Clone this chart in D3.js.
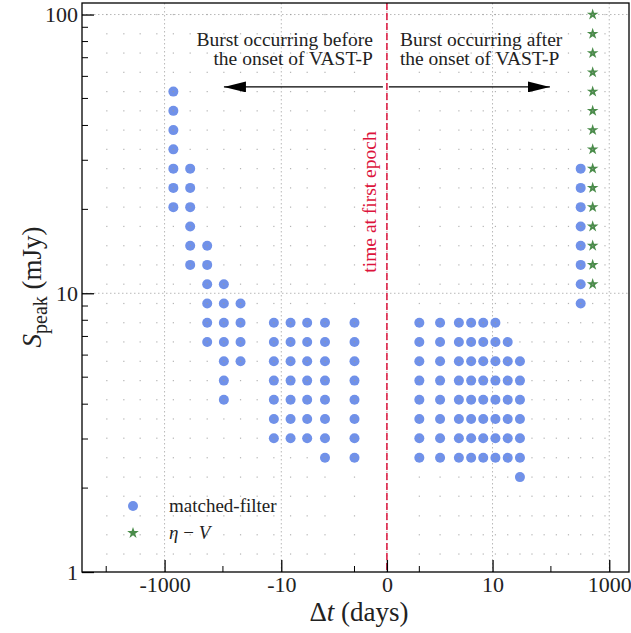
<!DOCTYPE html>
<html>
<head>
<meta charset="utf-8">
<script src="https://cdn.jsdelivr.net/npm/d3@7"></script>
<style>
  body { margin: 0; background: #fff; }
  svg text { font-family: "Liberation Serif", "DejaVu Serif", serif; fill: #222; }
</style>
</head>
<body>
<div id="chart"></div>
<script>
// delay (days) columns of the search grid, before / after the first epoch
var gridDaysBefore = [-9760, -4990, -2620, -1357, -707, -364, -186, -96.4, -49.9, -25.9, -13.4, -6.93, -3.60, -1.91, -1]
var gridDaysAfter = [1, 1.64, 2.65, 4.30, 6.93, 11.2, 18.2, 29.5, 47.4, 76.6, 124, 200, 324, 520, 845]
// peak flux rows of the grid (mJy)
var gridFlux = [100, 85.29, 72.74, 62.04, 52.91, 45.13, 38.49, 32.83, 28.00, 23.88, 20.37, 17.37, 14.81, 12.64,
  10.78, 9.19, 7.84, 6.69, 5.70, 4.86, 4.15, 3.54, 3.02, 2.57, 2.19, 1.87, 1.59, 1.36, 1.16]

// matched-filter detections: one delay per column, with the fluxes found there
var mfDays = [-707, -364, -186, -96.4, -49.9, -13.4, -6.93, -3.60, -1.91, -1,
  1, 1.64, 2.65, 4.30, 6.93, 11.2, 18.2, 29.5, 324]
var mfFlux = [
  [52.91, 45.13, 38.49, 32.83, 28.00, 23.88, 20.37],
  [28.00, 23.88, 20.37, 17.37, 14.81, 12.64],
  [14.81, 12.64, 10.78, 9.19, 7.84, 6.69],
  [10.78, 9.19, 7.84, 6.69, 5.70, 4.86, 4.15],
  [9.19, 7.84, 6.69, 5.70],
  [7.84, 6.69, 5.70, 4.86, 4.15, 3.54, 3.02],
  [7.84, 6.69, 5.70, 4.86, 4.15, 3.54, 3.02],
  [7.84, 6.69, 5.70, 4.86, 4.15, 3.54, 3.02],
  [7.84, 6.69, 5.70, 4.86, 4.15, 3.54, 3.02, 2.57],
  [7.84, 6.69, 5.70, 4.86, 4.15, 3.54, 3.02, 2.57],
  [7.84, 6.69, 5.70, 4.86, 4.15, 3.54, 3.02, 2.57],
  [7.84, 6.69, 5.70, 4.86, 4.15, 3.54, 3.02, 2.57],
  [7.84, 6.69, 5.70, 4.86, 4.15, 3.54, 3.02, 2.57],
  [7.84, 6.69, 5.70, 4.86, 4.15, 3.54, 3.02, 2.57],
  [7.84, 6.69, 5.70, 4.86, 4.15, 3.54, 3.02, 2.57],
  [7.84, 6.69, 5.70, 4.86, 4.15, 3.54, 3.02, 2.57],
  [6.69, 5.70, 4.86, 4.15, 3.54, 3.02, 2.57],
  [5.70, 4.86, 4.15, 3.54, 3.02, 2.57, 2.19],
  [28.00, 23.88, 20.37, 17.37, 14.81, 12.64, 10.78, 9.19]
]

// eta-V detections
var etaDays = [520]
var etaFlux = [[100, 85.29, 72.74, 62.04, 52.91, 45.13, 38.49, 32.83, 28.00, 23.88, 20.37, 17.37, 14.81, 12.64, 10.78]]

var xMajor = [-1000, -10, 0, 10, 1000]
var xMajorLabels = ["-1000", "-10", "0", "10", "1000"]
var xMinor = [-10000, -100, -1, 1, 100]
var yMajor = [1, 10, 100]
var yMajorLabels = ["1", "10", "100"]
var yMinor = [2, 3, 4, 5, 6, 7, 8, 9, 20, 30, 40, 50, 60, 70, 80, 90]
var xLimits = [-26000, 2180]
var yLimits = [1, 110]

// matplotlib-style symlog (linthresh 2, linscale 1)
var LT = 2, LS = 1 / (1 - 1 / 10)
function symT(v){
  var a = Math.abs(v)
  if(a <= LT) return v * LS
  return Math.sign(v) * LT * (LS + Math.log10(a / LT))
}

var margin = {top: 3, right: 2, bottom: 61, left: 82}
  , W = 631, H = 633
  , width = W - margin.left - margin.right
  , height = H - margin.top - margin.bottom

var xScale = d3.scaleLinear()
  .domain(xLimits.map(symT))
  .range([0, width])
var yScale = d3.scaleLog()
  .domain(yLimits)
  .range([height, 0])

function px(v){ return xScale(symT(v)) }

var svg = d3.select("#chart").append("svg")
  .attr("width", W)
  .attr("height", H)
var g = svg.append("g")
  .attr("transform", "translate(" + margin.left + "," + margin.top + ")")

// major grid
g.selectAll("line.vgrid")
  .data(xMajor)
  .enter().append("line")
  .attr("x1", px).attr("x2", px)
  .attr("y1", 0).attr("y2", height)
  .attr("stroke", "#b8b8b8").attr("stroke-width", 1)
  .attr("stroke-dasharray", "1.5,2.5")
g.selectAll("line.hgrid")
  .data([10, 100])
  .enter().append("line")
  .attr("x1", 0).attr("x2", width)
  .attr("y1", yScale).attr("y2", yScale)
  .attr("stroke", "#b8b8b8").attr("stroke-width", 1)
  .attr("stroke-dasharray", "1.5,2.5")

// vertical line at first epoch
g.append("line")
  .attr("x1", px(0)).attr("x2", px(0))
  .attr("y1", 0).attr("y2", height)
  .attr("stroke", "#dc143c").attr("stroke-width", 1.5)
  .attr("stroke-dasharray", "7,3")

g.append("text")
  .attr("transform", "translate(" + (px(0) - 11) + "," + 199 + ") rotate(-90)")
  .attr("text-anchor", "middle")
  .style("font-size", "19.5px")
  .style("fill", "#dc143c")
  .text("time at first epoch")

// matched-filter points
var mfPoints = []
mfDays.forEach(function(d, i){
  mfFlux[i].forEach(function(f){ mfPoints.push({x: d, y: f}) })
})
g.selectAll("circle.dot")
  .data(mfPoints)
  .enter().append("circle")
  .attr("class", "dot")
  .attr("cx", function(d){ return px(d.x) })
  .attr("cy", function(d){ return yScale(d.y) })
  .attr("r", 5)
  .attr("fill", "#7091e9")

var etaPoints = []
etaDays.forEach(function(d, i){
  etaFlux[i].forEach(function(f){ etaPoints.push({x: d, y: f}) })
})
var star = d3.symbol().type(d3.symbolStar).size(42)
g.selectAll("path.star")
  .data(etaPoints)
  .enter().append("path")
  .attr("class", "star")
  .attr("d", star)
  .attr("transform", function(d){ return "translate(" + px(d.x) + "," + yScale(d.y) + ")" })
  .attr("fill", "#4a8c4a")

// search grid
var gridDays = gridDaysBefore.concat(gridDaysAfter)
var gridPts = []
gridDays.forEach(function(d){
  gridFlux.forEach(function(f){ gridPts.push({x: d, y: f}) })
})
g.selectAll("rect.cell")
  .data(gridPts)
  .enter().append("rect")
  .attr("x", function(d){ return px(d.x) - 0.6 })
  .attr("y", function(d){ return yScale(d.y) - 0.6 })
  .attr("width", 1.2).attr("height", 1.2)
  .attr("fill", "#9a9a9a")
  .attr("opacity", 0.75)

// arrows
var defs = svg.append("defs")
defs.append("marker")
  .attr("id", "head")
  .attr("viewBox", "0 0 22 11")
  .attr("refX", 22).attr("refY", 5.5)
  .attr("markerWidth", 22).attr("markerHeight", 11)
  .attr("markerUnits", "userSpaceOnUse")
  .attr("orient", "auto")
  .append("path")
  .attr("d", "M0,0 L22,5.5 L0,11 Z")
  .attr("fill", "#000")

var arrowY = yScale(55)
g.append("line")
  .attr("x1", px(0) - 4).attr("x2", px(-100) + 1)
  .attr("y1", arrowY).attr("y2", arrowY)
  .attr("stroke", "#000").attr("stroke-width", 1.3)
  .attr("marker-end", "url(#head)")
g.append("line")
  .attr("x1", px(0) + 2).attr("x2", px(100) - 1)
  .attr("y1", arrowY).attr("y2", arrowY)
  .attr("stroke", "#000").attr("stroke-width", 1.3)
  .attr("marker-end", "url(#head)")

var before = g.append("text")
  .attr("text-anchor", "end")
  .style("font-size", "19.5px")
before.append("tspan").attr("x", px(0) - 14).attr("y", 43).text("Burst occurring before")
before.append("tspan").attr("x", px(0) - 14).attr("y", 62).text("the onset of VAST-P")
var after = g.append("text")
  .attr("text-anchor", "start")
  .style("font-size", "19.5px")
after.append("tspan").attr("x", px(0) + 13).attr("y", 43).text("Burst occurring after")
after.append("tspan").attr("x", px(0) + 13).attr("y", 62).text("the onset of VAST-P")

// axes
var xAxis = g.append("g")
  .attr("transform", "translate(0," + height + ")")
  .call(d3.axisBottom(xScale)
    .tickValues(xMajor.map(symT))
    .tickFormat(function(d, i){ return xMajorLabels[i] })
    .tickSizeInner(-12).tickSizeOuter(0).tickPadding(4))
xAxis.append("g").selectAll("line")
  .data(xMinor)
  .enter().append("line")
  .attr("x1", px).attr("x2", px)
  .attr("y1", 0).attr("y2", -6)
  .attr("stroke", "#000")

var yAxis = g.append("g")
  .call(d3.axisLeft(yScale)
    .tickValues(yMajor)
    .tickFormat(function(d, i){ return yMajorLabels[i] })
    .tickSizeInner(-12).tickSizeOuter(0).tickPadding(4))
yAxis.append("g").selectAll("line")
  .data(yMinor)
  .enter().append("line")
  .attr("y1", yScale).attr("y2", yScale)
  .attr("x1", 0).attr("x2", 6)
  .attr("stroke", "#000")

xAxis.attr("font-family", null)
yAxis.attr("font-family", null)
svg.selectAll(".tick text")
  .style("font-size", "22px")
  .attr("fill", "#222")
svg.selectAll(".domain, .tick line").attr("stroke", "#000").attr("stroke-width", 1.3)
xAxis.select(".domain").remove()
yAxis.select(".domain").remove()

// frame
g.append("rect")
  .attr("x", 0).attr("y", 0)
  .attr("width", width).attr("height", height)
  .attr("fill", "none")
  .attr("stroke", "#000").attr("stroke-width", 1.3)

// legend
var legend = g.append("g").attr("transform", "translate(51,503)")
legend.append("circle").attr("cx", 0).attr("cy", 0).attr("r", 5).attr("fill", "#7091e9")
legend.append("text").attr("x", 36).attr("y", 6).style("font-size", "19px").text("matched-filter")
legend.append("path").attr("d", star).attr("transform", "translate(0,27)").attr("fill", "#4a8c4a")
var eta = legend.append("text").attr("x", 36).attr("y", 33).style("font-size", "19px")
eta.append("tspan").style("font-style", "italic").text("η")
eta.append("tspan").text(" − ")
eta.append("tspan").style("font-style", "italic").text("V")

// axis titles
var xt = svg.append("text")
  .attr("x", 359).attr("y", 621)
  .attr("text-anchor", "middle")
  .style("font-size", "27px")
xt.append("tspan").text("Δ")
xt.append("tspan").style("font-style", "italic").text("t")
xt.append("tspan").text(" (days)")

var yt = svg.append("text")
  .attr("transform", "translate(41,287) rotate(-90)")
  .attr("text-anchor", "middle")
  .style("font-size", "27px")
yt.append("tspan").style("font-style", "italic").text("S")
yt.append("tspan").attr("dy", 6).style("font-size", "20px").text("peak")
yt.append("tspan").attr("dy", -6).text(" (mJy)")
</script>
</body>
</html>
